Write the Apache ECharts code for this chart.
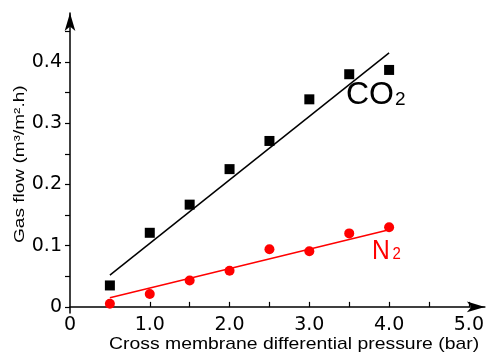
<!DOCTYPE html>
<html>
<head>
<meta charset="utf-8">
<script src="https://cdn.jsdelivr.net/npm/echarts@6/dist/echarts.min.js"></script>
<style>
  html, body { margin: 0; padding: 0; background: #fff; }
  #chart { width: 487px; height: 353px; }
</style>
</head>
<body>
<div id="chart"></div>
<script>
// Measured gas flow vs. cross-membrane pressure
const pressure = [0.5, 1.0, 1.5, 2.0, 2.5, 3.0, 3.5, 4.0];
const co2Flow = [0.035, 0.121, 0.167, 0.225, 0.271, 0.339, 0.380, 0.387];
const n2Flow = [0.005, 0.021, 0.043, 0.059, 0.094, 0.091, 0.120, 0.130];

// Linear fit end points [pressure, flow]
const co2Fit = [[0.5, 0.052], [4.0, 0.415]];
const n2Fit = [[0.5, 0.015], [4.0, 0.126]];

// Axis ticks and labels
const xLabelValues = [0, 1, 2, 3, 4, 5];
const xTickValues = [0.5, 1.0, 1.5, 2.0, 2.5, 3.0, 3.5, 4.0, 4.5, 5.0];
const yLabelValues = [0, 0.1, 0.2, 0.3, 0.4];
const yTickValues = [0, 0.05, 0.1, 0.15, 0.2, 0.25, 0.3, 0.35, 0.4, 0.45];

const xTitle = 'Cross membrane differential pressure (bar)';
const yTitle = 'Gas flow (m\u00b3/m\u00b2.h)';

const FONT = 'Liberation Sans, Arial, Helvetica, sans-serif';
const TICK_FONT = 'DejaVu Sans, Verdana, sans-serif';
const RED = '#ff0000';

const chart = echarts.init(document.getElementById('chart'), null, { renderer: 'canvas' });

const pairs = (xs, ys) => xs.map((x, i) => [x, ys[i]]);
const fmt = v => (v === 0 ? '0' : v.toFixed(1));

chart.setOption({
  animation: false,
  backgroundColor: '#fff',
  grid: { left: 70, right: 1, top: 13, bottom: 40 },
  xAxis: {
    type: 'value',
    min: 0,
    max: 5.2,
    splitLine: { show: false },
    axisLine: {
      onZero: true,
      symbol: ['none', 'arrow'],
      symbolSize: [8, 18],
      lineStyle: { color: '#000', width: 1.5 }
    },
    axisTick: {
      customValues: xTickValues,
      inside: true,
      length: 5,
      lineStyle: { color: '#000', width: 1.2 }
    },
    axisLabel: {
      customValues: xLabelValues,
      margin: 3,
      color: '#000',
      fontFamily: TICK_FONT,
      fontSize: 19,
      formatter: fmt
    }
  },
  yAxis: {
    type: 'value',
    min: -0.01,
    max: 0.48,
    splitLine: { show: false },
    axisLine: {
      onZero: false,
      symbol: ['none', 'arrow'],
      symbolSize: [8, 18],
      lineStyle: { color: '#000', width: 1.5 }
    },
    axisTick: {
      customValues: yTickValues,
      length: 5,
      lineStyle: { color: '#000', width: 1.2 }
    },
    axisLabel: {
      customValues: yLabelValues,
      margin: 8,
      color: '#000',
      fontFamily: TICK_FONT,
      fontSize: 19,
      formatter: fmt
    }
  },
  graphic: [
    {
      type: 'text',
      x: 109,
      y: 336,
      scaleX: 1.14,
      style: { text: xTitle, fill: '#000', font: '17px ' + FONT }
    },
    {
      type: 'text',
      x: 12,
      y: 243,
      rotation: Math.PI / 2,
      scaleX: 1.27,
      style: { text: yTitle, fill: '#000', font: '15px ' + FONT, textVerticalAlign: 'top' }
    },
    {
      type: 'text',
      x: 346,
      y: 79,
      style: {
        text: '{a|CO}{b|2}',
        rich: {
          a: { fontSize: 32, fontFamily: FONT, fill: '#000', verticalAlign: 'bottom' },
          b: { fontSize: 19, fontFamily: FONT, fill: '#000', verticalAlign: 'bottom', padding: [0, 0, 2, 1] }
        }
      }
    },
    {
      type: 'text',
      x: 372,
      y: 237,
      scaleX: 0.88,
      style: {
        text: '{a|N}{b|2}',
        rich: {
          a: { fontSize: 28, fontFamily: FONT, fill: RED, verticalAlign: 'bottom' },
          b: { fontSize: 17, fontFamily: FONT, fill: RED, verticalAlign: 'bottom', padding: [0, 0, 2, 3] }
        }
      }
    }
  ],
  series: [
    {
      name: 'CO2 fit',
      type: 'line',
      data: co2Fit,
      showSymbol: false,
      lineStyle: { color: '#000', width: 1.5 },
      z: 2
    },
    {
      name: 'N2 fit',
      type: 'line',
      data: n2Fit,
      showSymbol: false,
      lineStyle: { color: RED, width: 1.5 },
      z: 2
    },
    {
      name: 'CO2',
      type: 'scatter',
      data: pairs(pressure, co2Flow),
      symbol: 'rect',
      symbolSize: 10,
      itemStyle: { color: '#000', opacity: 1 },
      z: 3
    },
    {
      name: 'N2',
      type: 'scatter',
      data: pairs(pressure, n2Flow),
      symbol: 'circle',
      symbolSize: 10,
      itemStyle: { color: RED, opacity: 1 },
      z: 3
    }
  ]
});
</script>
</body>
</html>
